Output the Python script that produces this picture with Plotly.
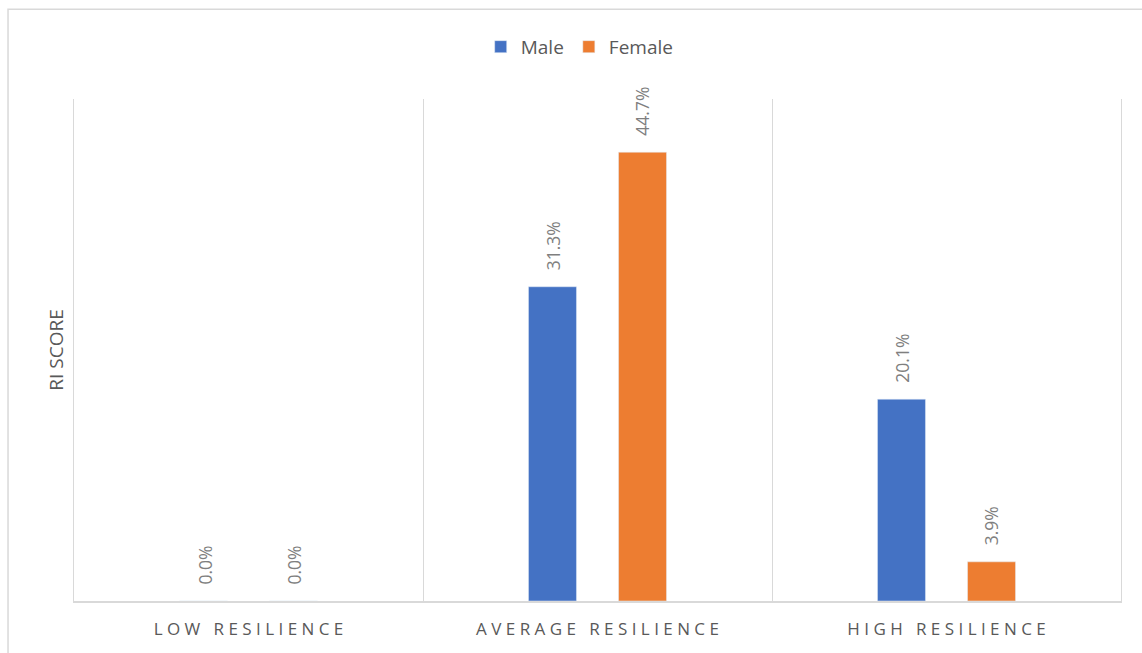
import plotly.graph_objects as go

categories = ["LOW RESILIENCE", "AVERAGE RESILIENCE", "HIGH RESILIENCE"]
male = [0.0, 31.3, 20.1]
female = [0.0, 44.7, 3.9]

NB = "\u00a0"


def spaced(s):
    return (NB * 3).join(NB.join(list(w)) for w in s.split(" "))


tick_text = [spaced(c) for c in categories]

BLUE = "#4472C4"
ORANGE = "#ED7D31"
GRID = "#D9D9D9"
TXT = "#595959"
LBL = "#7F7F7F"
FONT = "Open Sans"

fig = go.Figure()
fig.add_trace(go.Bar(name="Male", x=categories, y=male, marker_color=BLUE))
fig.add_trace(go.Bar(name="Female", x=categories, y=female, marker_color=ORANGE))

annotations = []
for vals, shift in ((male, -44.5), (female, 44.5)):
    for c, v in zip(categories, vals):
        annotations.append(dict(
            x=c, y=v, xref="x", yref="y", text=f"{v:.1f}%", showarrow=False,
            textangle=-90, xshift=shift, yshift=14, yanchor="bottom",
            font=dict(family=FONT, size=17.5, color=LBL)))

fig.update_layout(
    width=1142, height=653,
    margin=dict(l=74, r=21, t=99, b=52),
    paper_bgcolor="white", plot_bgcolor="white",
    barmode="group", bargap=0.484, bargroupgap=0.467,
    font=dict(family=FONT, color=TXT),
    showlegend=True,
    legend=dict(orientation="h", x=0.483, xanchor="center", y=1.104, yanchor="middle",
                font=dict(family=FONT, size=19, color=TXT), itemwidth=30,
                traceorder="normal"),
    annotations=annotations,
    shapes=[dict(type="rect", xref="paper", yref="paper",
                 x0=-0.063, x1=1.2, y0=-0.3, y1=1.179,
                 line=dict(color=GRID, width=1.5), fillcolor="rgba(0,0,0,0)", layer="below")],
)
fig.update_xaxes(
    type="category", tickson="boundaries", showgrid=True, gridcolor=GRID, gridwidth=1.3,
    showline=True, linecolor=GRID, linewidth=1.5, ticks="",
    tickvals=categories, ticktext=tick_text, ticklabelstandoff=12,
    tickfont=dict(family=FONT, size=17, color=TXT),
)
fig.update_yaxes(
    range=[0, 50], showgrid=False, showticklabels=False, zeroline=False,
    showline=True, mirror=True, linecolor=GRID, linewidth=1.3,
    title=dict(text="RI SCORE", font=dict(family=FONT, size=19, color=TXT), standoff=4),
)

fig.write_html("out.html")
